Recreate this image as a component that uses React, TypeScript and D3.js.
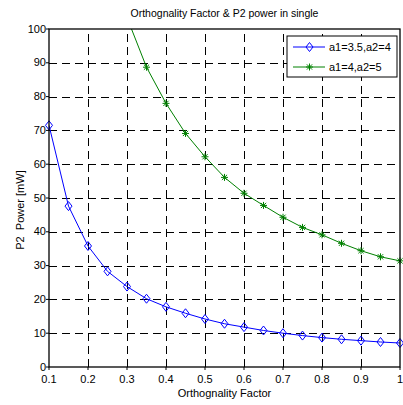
import React from "react";
import * as d3 from "d3";

const xTicks = [0.1, 0.2, 0.3, 0.4, 0.5, 0.6, 0.7, 0.8, 0.9, 1];
const xTickLabels = ["0.1", "0.2", "0.3", "0.4", "0.5", "0.6", "0.7", "0.8", "0.9", "1"];
const yTicks = [0, 10, 20, 30, 40, 50, 60, 70, 80, 90, 100];

const blueX = [0.1, 0.15, 0.2, 0.25, 0.3, 0.35, 0.4, 0.45, 0.5, 0.55, 0.6, 0.65, 0.7, 0.75, 0.8, 0.85, 0.9, 0.95, 1.0];
const blueY = [71.5, 47.6, 35.8, 28.3, 23.8, 20.2, 17.8, 15.9, 14.2, 12.8, 11.8, 10.8, 10.0, 9.3, 8.7, 8.2, 7.8, 7.4, 7.1];

const greenX = [0.3, 0.35, 0.4, 0.45, 0.5, 0.55, 0.6, 0.65, 0.7, 0.75, 0.8, 0.85, 0.9, 0.95, 1.0];
const greenY = [103.4, 88.7, 78.0, 69.1, 62.2, 56.1, 51.4, 47.8, 44.3, 41.3, 39.1, 36.6, 34.4, 32.6, 31.4];

const seriesNames = ["a1=3.5,a2=4", "a1=4,a2=5"];
const title = "Orthognality Factor & P2 power in single";
const xLabel = "Orthognality Factor";
const yLabel = "P2  Power [mW]";

const W = 403;
const H = 405;
const L = 49, R = 400, T = 29, B = 367;
const FONT = "'Liberation Sans', Arial, sans-serif";
const BLUE = "#0000ff";
const GREEN = "#008000";

export default function App() {
  const x = d3.scaleLinear().domain([0.1, 1]).range([L, R]);
  const y = d3.scaleLinear().domain([0, 100]).range([B, T]);
  const line = d3.line<[number, number]>().x((d) => x(d[0])).y((d) => y(d[1]));
  const blue: [number, number][] = blueX.map((v, i) => [v, blueY[i]]);
  const green: [number, number][] = greenX.map((v, i) => [v, greenY[i]]);
  const inside = (d: [number, number]) => d[1] >= 0 && d[1] <= 100;

  const diamond = (cx: number, cy: number, key: any) => (
    <path
      key={key}
      d={`M${cx},${cy - 4.5}L${cx + 3.5},${cy}L${cx},${cy + 4.5}L${cx - 3.5},${cy}Z`}
      fill="none"
      stroke={BLUE}
      strokeWidth={1}
    />
  );
  const star = (cx: number, cy: number, key: any) => (
    <path
      key={key}
      d={`M${cx - 3.5},${cy}H${cx + 3.5}M${cx},${cy - 3.5}V${cy + 3.5}M${cx - 2.6},${cy - 2.6}L${cx + 2.6},${cy + 2.6}M${cx - 2.6},${cy + 2.6}L${cx + 2.6},${cy - 2.6}`}
      fill="none"
      stroke={GREEN}
      strokeWidth={1}
    />
  );

  const dash = "8,5";
  const lx = 287, ly = 36, lw = 110, lh = 41;

  return (
    <svg
      width={W}
      height={H}
      style={{ position: "absolute", left: 0, top: 0, background: "#fff" }}
      fontFamily={FONT}
    >
      <rect x={0} y={0} width={W} height={H} fill="#fff" />
      <defs>
        <clipPath id="plotclip">
          <rect x={L} y={T} width={R - L} height={B - T} />
        </clipPath>
      </defs>
      {/* grid */}
      <g stroke="#000" strokeWidth={1} strokeDasharray={dash} shapeRendering="crispEdges">
        {xTicks.slice(1, -1).map((t) => (
          <line key={"gx" + t} x1={Math.round(x(t)) + 0.5} x2={Math.round(x(t)) + 0.5} y1={B} y2={T} />
        ))}
        {yTicks.slice(1, -1).map((t) => (
          <line key={"gy" + t} x1={L} x2={R} y1={Math.round(y(t)) + 0.5} y2={Math.round(y(t)) + 0.5} />
        ))}
      </g>
      {/* series */}
      <g clipPath="url(#plotclip)">
        <path d={line(blue) || ""} fill="none" stroke={BLUE} strokeWidth={1} />
        <path d={line(green) || ""} fill="none" stroke={GREEN} strokeWidth={1} />
      </g>
      {blue.filter(inside).map((d, i) => diamond(x(d[0]), y(d[1]), "b" + i))}
      {green.filter(inside).map((d, i) => star(x(d[0]), y(d[1]), "g" + i))}
      {/* axes box */}
      <rect x={L} y={T} width={R - L} height={B - T} fill="none" stroke="#000" strokeWidth={1.3} />
      {/* ticks */}
      <g stroke="#000" strokeWidth={1}>
        {xTicks.map((t) => (
          <line key={"tx" + t} x1={x(t)} x2={x(t)} y1={B} y2={B + 3} />
        ))}
        {yTicks.map((t) => (
          <line key={"ty" + t} x1={L - 3} x2={L} y1={y(t)} y2={y(t)} />
        ))}
      </g>
      <g fontSize={11} fill="#000">
        {xTicks.map((t, i) => (
          <text key={"lx" + t} x={x(t)} y={382.5} textAnchor="middle">
            {xTickLabels[i]}
          </text>
        ))}
        {yTicks.map((t) => (
          <text key={"ly" + t} x={46} y={y(t) + 3.5} textAnchor="end">
            {t}
          </text>
        ))}
      </g>
      <text x={(L + R) / 2} y={17} textAnchor="middle" fontSize={10.5}>
        {title}
      </text>
      <text x={(L + R) / 2} y={397} textAnchor="middle" fontSize={11}>
        {xLabel}
      </text>
      <text
        transform={`translate(24,210) rotate(-90)`}
        textAnchor="middle"
        fontSize={11}
        style={{ whiteSpace: "pre" }}
      >
        {yLabel}
      </text>
      {/* legend */}
      <rect x={lx} y={ly} width={lw} height={lh} fill="#fff" stroke="#000" strokeWidth={1} />
      <line x1={293} x2={325} y1={ly + 11} y2={ly + 11} stroke={BLUE} strokeWidth={1} />
      {diamond(309.5, ly + 11, "lb")}
      <line x1={293} x2={325} y1={ly + 31} y2={ly + 31} stroke={GREEN} strokeWidth={1} />
      {star(309.5, ly + 31, "lg")}
      <text x={329} y={ly + 15} fontSize={11}>
        {seriesNames[0]}
      </text>
      <text x={329} y={ly + 35} fontSize={11}>
        {seriesNames[1]}
      </text>
    </svg>
  );
}
